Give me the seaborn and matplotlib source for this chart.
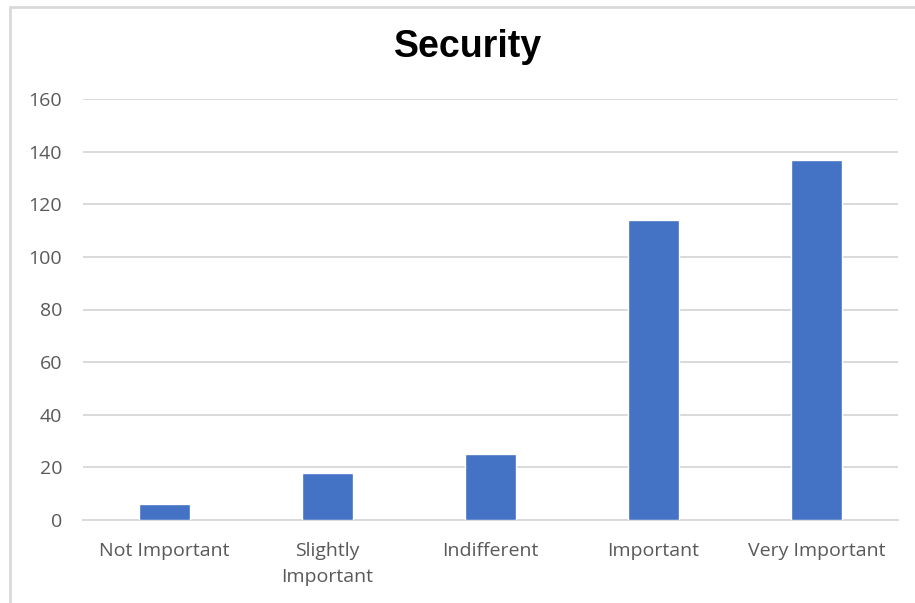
import matplotlib
matplotlib.use("Agg")
import matplotlib.pyplot as plt
import seaborn as sns
import pandas as pd
from matplotlib.lines import Line2D

categories = ["Not Important", "Slightly\nImportant", "Indifferent", "Important", "Very Important"]
counts = [6, 18, 25, 114, 137]
y_ticks = [0, 20, 40, 60, 80, 100, 120, 140, 160]

df = pd.DataFrame({"level": categories, "count": counts})

sns.set_theme(style="white")
plt.rcParams["font.family"] = ["Open Sans", "DejaVu Sans"]

fig = plt.figure(figsize=(9.15, 6.03), dpi=100)
ax = fig.add_axes([83 / 915, 1 - 520 / 603, (898 - 83) / 915, (520 - 99) / 603])

sns.barplot(data=df, x="level", y="count", color="#4472C4", width=0.31,
            saturation=1, ax=ax, zorder=3)

ax.set_ylim(0, 160)
ax.set_xlim(-0.5, 4.5)
ax.set_yticks(y_ticks)
ax.set_yticklabels([str(v) for v in y_ticks])
ax.grid(axis="y", color="#d9d9d9", linewidth=1.4, zorder=0)
ax.grid(axis="x", visible=False)
for side in ["left", "right", "top"]:
    ax.spines[side].set_visible(False)
ax.spines["bottom"].set_color("#d9d9d9")
ax.spines["bottom"].set_linewidth(1.4)
ax.tick_params(axis="both", length=0, colors="#595959", labelsize=14)
ax.tick_params(axis="y", pad=15)
ax.tick_params(axis="x", pad=16)
ax.set_xlabel("")
ax.set_ylabel("")
for lbl in ax.get_xticklabels():
    lbl.set_linespacing(1.55)

fig.text(468 / 915, 1 - 47 / 603, "Security", ha="center", va="center",
         fontsize=27, fontweight="bold", family=["Liberation Sans", "DejaVu Sans"],
         color="#000000")

# chart frame edges
fig.add_artist(Line2D([10 / 915, 10 / 915], [0, 1 - 7 / 603], transform=fig.transFigure,
                      color="#d9d9d9", linewidth=2))
fig.add_artist(Line2D([10 / 915, 1], [1 - 7 / 603, 1 - 7 / 603], transform=fig.transFigure,
                      color="#d9d9d9", linewidth=2))

fig.savefig("out.png", dpi=100, facecolor="white")
